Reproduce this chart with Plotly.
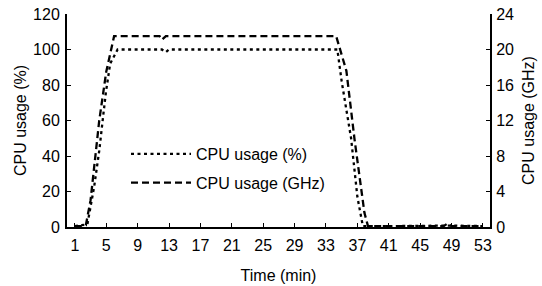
import plotly.graph_objects as go

# ---- data ----
time_pct = [1, 2, 2.6, 3.47, 4.11, 4.62, 4.96, 5.5, 6.45, 12.1, 12.6, 13.0,
            34.45, 35.0, 36.2, 37.0, 37.7, 41, 45, 48, 49, 53]
cpu_pct = [0.5, 1, 1.5, 23, 43, 63, 76, 92, 100, 100, 98.5, 100,
           100, 82, 50, 17, 0.5, 0.5, 0.8, 1, 0.8, 0.5]

time_ghz = [1, 2, 2.4, 3.0, 4.11, 4.5, 5.0, 6.0, 11.8, 12.1, 12.6,
            34.3, 35.6, 36.65, 37.3, 37.9, 38.35, 48, 48.5, 49, 53]
cpu_ghz = [0.1, 0.1, 0.2, 3.0, 12.0, 14.3, 17.5, 21.5, 21.5, 21.1, 21.5,
           21.5, 17.6, 9.8, 5.7, 1.6, 0.1, 0.1, 0.4, 0.1, 0.1]

x_ticks = [1, 5, 9, 13, 17, 21, 25, 29, 33, 37, 41, 45, 49, 53]
left_ticks = [0, 20, 40, 60, 80, 100, 120]
right_ticks = [0, 4, 8, 12, 16, 20, 24]

FONT = "Liberation Sans"
FS = 16

fig = go.Figure()
fig.add_trace(go.Scatter(
    x=time_pct, y=cpu_pct, mode="lines", name="CPU usage (%)",
    line=dict(color="black", width=2.3, dash="3px,3.5px"),
    yaxis="y", legend="legend", showlegend=True))
fig.add_trace(go.Scatter(
    x=time_ghz, y=cpu_ghz, mode="lines", name="CPU usage (GHz)",
    line=dict(color="black", width=2.3, dash="7px,4px"),
    yaxis="y2", legend="legend2", showlegend=True))

axis_common = dict(showgrid=False, zeroline=False, showline=True,
                   linecolor="black", linewidth=2, ticks="inside",
                   ticklen=4, tickwidth=1, tickcolor="black",
                   automargin=False,
                   tickfont=dict(family=FONT, size=FS, color="black"))

fig.update_layout(
    width=542, height=286,
    margin=dict(l=67, r=52, t=14, b=59),
    paper_bgcolor="white", plot_bgcolor="white",
    showlegend=True,
    font=dict(family=FONT, size=FS, color="black"),
    xaxis=dict(range=[0, 53.9], tickvals=x_ticks, ticklabelstandoff=3,
               title=dict(text="Time (min)", standoff=17,
                          font=dict(family=FONT, size=FS)),
               **axis_common),
    yaxis=dict(range=[0, 120], tickvals=left_ticks, ticklabelstandoff=2,
               title=dict(text="CPU usage (%)", standoff=2,
                          font=dict(family=FONT, size=FS)),
               **axis_common),
    yaxis2=dict(range=[0, 24], tickvals=right_ticks, overlaying="y",
                side="right", anchor="x", ticklabelstandoff=1,
                title=dict(text="CPU usage (GHz)", standoff=10,
                           font=dict(family=FONT, size=FS)),
                **axis_common),
    legend=dict(x=(126 - 67) / 423, y=(227.3 - 154) / 213.6,
                xanchor="left", yanchor="middle",
                bgcolor="rgba(0,0,0,0)", itemwidth=60, visible=True,
                font=dict(family=FONT, size=FS)),
    legend2=dict(x=(126 - 67) / 423, y=(227.3 - 183) / 213.6,
                 xanchor="left", yanchor="middle",
                 bgcolor="rgba(0,0,0,0)", itemwidth=60, visible=True,
                 font=dict(family=FONT, size=FS)),
)

# remove the browser's default 8px body margin so the figure sits at (0, 0)
fig.write_html("out.html",
               config={"displayModeBar": False},
               post_script="document.body.style.margin='0px';")
